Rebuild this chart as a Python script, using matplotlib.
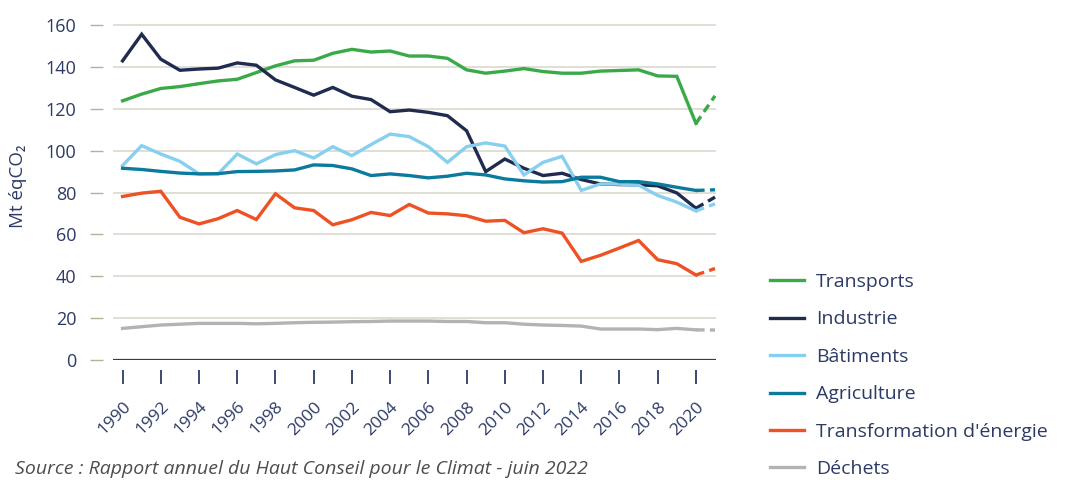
import numpy as np
import matplotlib
matplotlib.use("Agg")
import matplotlib.pyplot as plt

plt.rcParams["font.family"] = ["Open Sans", "DejaVu Sans"]

years = list(range(1990, 2022))

transports = [123.8, 127.0, 129.7, 130.6, 132.0, 133.3, 134.1, 137.3, 140.5, 142.9,
              143.2, 146.5, 148.4, 147.1, 147.6, 145.2, 145.2, 144.1, 138.6, 137.0,
              138.0, 139.2, 137.8, 137.0, 137.0, 138.0, 138.3, 138.6, 135.7, 135.5,
              113.0, 126.2]
industrie = [142.9, 155.6, 143.7, 138.4, 139.0, 139.4, 141.9, 140.8, 133.8, 130.2,
             126.5, 130.2, 126.0, 124.4, 118.6, 119.4, 118.3, 116.7, 109.5, 90.0,
             96.0, 91.6, 88.1, 89.2, 86.2, 84.1, 83.8, 83.7, 83.2, 79.8,
             72.5, 77.8]
batiments = [92.9, 102.4, 98.4, 94.9, 88.9, 88.9, 98.4, 93.7, 98.1, 100.0,
             96.5, 101.9, 97.6, 102.9, 107.9, 106.7, 101.9, 94.4, 101.9, 103.7,
             102.2, 88.4, 94.4, 97.3, 81.0, 84.1, 84.0, 83.5, 78.6, 75.4,
             71.2, 74.6]
agriculture = [91.6, 91.0, 90.1, 89.3, 88.9, 89.0, 90.0, 90.1, 90.3, 90.8,
               93.2, 92.9, 91.3, 88.1, 88.9, 88.1, 87.0, 87.8, 89.2, 88.4,
               86.5, 85.6, 85.0, 85.2, 87.3, 87.3, 85.2, 85.2, 84.1, 82.5,
               81.0, 81.3]
energie = [78.1, 79.7, 80.6, 68.2, 65.0, 67.5, 71.4, 67.1, 79.4, 72.7,
           71.4, 64.6, 67.0, 70.5, 69.0, 74.3, 70.2, 69.8, 68.9, 66.3,
           66.7, 60.8, 62.7, 60.6, 47.1, 50.0, 53.5, 57.1, 47.9, 46.0,
           40.6, 43.7]
dechets = [15.1, 15.9, 16.7, 17.1, 17.5, 17.5, 17.5, 17.3, 17.5, 17.8,
           18.0, 18.1, 18.3, 18.4, 18.6, 18.6, 18.6, 18.4, 18.4, 17.8,
           17.8, 17.1, 16.7, 16.5, 16.2, 14.8, 14.8, 14.8, 14.5, 15.1,
           14.4, 14.3]

labels = ["Transports", "Industrie", "Bâtiments", "Agriculture",
          "Transformation d'énergie", "Déchets"]
colors = ["#3aaa48", "#1f2b4f", "#86cfee", "#0b7a9c", "#ee5124", "#b3b3b3"]
series = [transports, industrie, batiments, agriculture, energie, dechets]

navy = "#2c3a66"

fig = plt.figure(figsize=(10.74, 4.8), dpi=100)
ax = fig.add_axes([113 / 1074, 120 / 480, 603 / 1074, 336 / 480])

# solid up to 2020, dashed 2020-2021 (estimate)
for vals, col, lab in zip(series, colors, labels):
    ax.plot(years[:-1], vals[:-1], color=col, lw=2.4, label=lab,
            solid_joinstyle="miter", zorder=3)
    ax.plot(years[-2:], vals[-2:], color=col, lw=2.4, dashes=(2.6, 1.6), zorder=3)

ax.set_xlim(1989.5, 2021.05)
ax.set_ylim(0, 160.5)

yt = np.arange(0, 161, 20)
ax.set_yticks(yt)
for v in yt[1:]:
    ax.axhline(v, color="#dcd8ce", lw=1.2, zorder=1)
ax.axhline(0, color=navy, lw=1.6, zorder=2)

for s in ax.spines.values():
    s.set_visible(False)
ax.spines["left"].set_position(("outward", 7))
ax.spines["bottom"].set_position(("outward", 7))

ax.tick_params(axis="y", length=9.5, width=1.0, color="#b9b09a", pad=10,
               labelsize=13, labelcolor=navy)
ax.yaxis.get_major_ticks()[0].tick1line.set_color(navy)

ax.set_xticks(years[:-1:2])
ax.set_xticklabels([str(y) for y in years[:-1:2]], rotation=45, ha="right",
                   rotation_mode="anchor")
ax.tick_params(axis="x", length=10, width=1.3, color=navy, pad=11,
               labelsize=12.5, labelcolor=navy)

fig.text(18 / 1074, 1 - 186 / 480, "Mt éqCO₂", rotation=90, ha="center",
         va="center", fontsize=13.5, color=navy)

fig.text(15 / 1074, 1 - 469 / 480,
         "Source : Rapport annuel du Haut Conseil pour le Climat - juin 2022",
         fontsize=14, style="italic", color="#4d4d4d", va="center")

ax.legend(loc="upper left", bbox_to_anchor=(770 / 1074, 1 - 273 / 480),
          bbox_transform=fig.transFigure, frameon=False, fontsize=14,
          labelcolor=navy, handlelength=1.75, handletextpad=0.6,
          labelspacing=1.0, borderpad=0, borderaxespad=0)

fig.savefig("out.png", dpi=100)
